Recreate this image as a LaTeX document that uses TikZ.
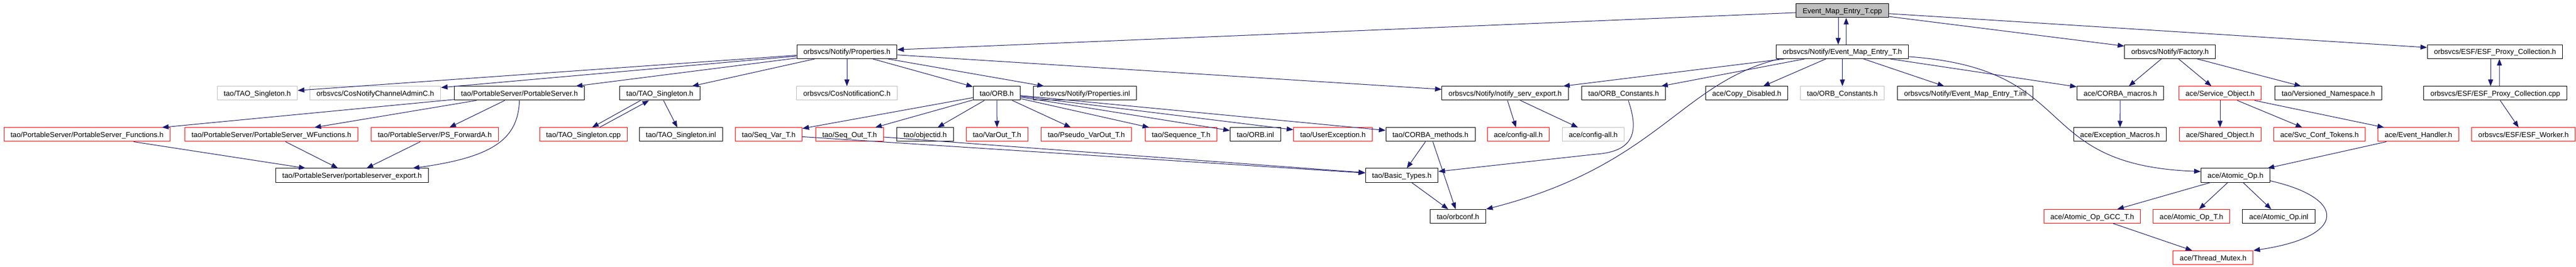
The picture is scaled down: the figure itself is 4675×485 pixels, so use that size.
\documentclass[tikz,border=0pt]{standalone}
\usepackage{fontspec}
\setmainfont{Liberation Sans}
\usetikzlibrary{arrows.meta}
\definecolor{edgeblue}{RGB}{25,25,112}
\definecolor{undocgray}{RGB}{191,191,191}
\tikzset{
  file/.style  = {draw=black, line width=1bp, rectangle, inner xsep=12bp, inner ysep=0pt,
                  text height=11.5bp, text depth=1.5bp, minimum height=25bp,
                  font=\fontsize{13.2bp}{15bp}\selectfont},
  trunc/.style = {file, draw=red},
  undoc/.style = {file, draw=undocgray},
  root/.style  = {file, fill=undocgray},
  dep/.style   = {draw=edgeblue, line width=1bp, -{Triangle[length=12bp,width=9bp]}}
}
\begin{document}
\begin{tikzpicture}[x=1bp, y=-1bp]
  \useasboundingbox (0,0) rectangle (4675,485);

  % row 0
  \node[root]  at (3343.5, 19.5) (cpp)    {Event\_Map\_Entry\_T.cpp};
  % row 1
  \node[file]  at (1537  , 94  ) (props)  {orbsvcs/Notify/Properties.h};
  \node[file]  at (3343.5, 94  ) (emeh)   {orbsvcs/Notify/Event\_Map\_Entry\_T.h};
  \node[file]  at (3938  , 94  ) (fact)   {orbsvcs/Notify/Factory.h};
  \node[file]  at (4528  , 94  ) (esfh)   {orbsvcs/ESF/ESF\_Proxy\_Collection.h};
  % row 2
  \node[undoc] at ( 467  ,169.5) (tsg)    {tao/TAO\_Singleton.h};
  \node[undoc] at ( 681  ,169.5) (cnca)   {orbsvcs/CosNotifyChannelAdminC.h};
  \node[file]  at ( 942.7,169.5) (ps)     {tao/PortableServer/PortableServer.h};
  \node[file]  at (1197.5,169.5) (tsb)    {tao/TAO\_Singleton.h};
  \node[undoc] at (1537  ,169.5) (cnc)    {orbsvcs/CosNotificationC.h};
  \node[file]  at (1809  ,169.5) (orb)    {tao/ORB.h};
  \node[file]  at (1969  ,169.5) (pinl)   {orbsvcs/Notify/Properties.inl};
  \node[file]  at (2731.6,169.5) (nse)    {orbsvcs/Notify/notify\_serv\_export.h};
  \node[file]  at (2946.5,169.5) (orbcb)  {tao/ORB\_Constants.h};
  \node[file]  at (3170  ,169.5) (copy)   {ace/Copy\_Disabled.h};
  \node[undoc] at (3343.6,169.5) (orbcg)  {tao/ORB\_Constants.h};
  \node[file]  at (3566.7,169.5) (emeinl) {orbsvcs/Notify/Event\_Map\_Entry\_T.inl};
  \node[file]  at (3848  ,169.5) (cmac)   {ace/CORBA\_macros.h};
  \node[trunc] at (4029  ,169.5) (so)     {ace/Service\_Object.h};
  \node[file]  at (4225.5,169.5) (vns)    {tao/Versioned\_Namespace.h};
  \node[file]  at (4528.5,169.5) (esfcpp) {orbsvcs/ESF/ESF\_Proxy\_Collection.cpp};
  % row 3
  \node[trunc] at ( 158  ,244.5) (psf)    {tao/PortableServer/PortableServer\_Functions.h};
  \node[trunc] at ( 492.5,244.5) (pswf)   {tao/PortableServer/PortableServer\_WFunctions.h};
  \node[trunc] at ( 789  ,244.5) (psfa)   {tao/PortableServer/PS\_ForwardA.h};
  \node[trunc] at (1058.8,244.5) (tscpp)  {tao/TAO\_Singleton.cpp};
  \node[file]  at (1235.8,244.5) (tsinl)  {tao/TAO\_Singleton.inl};
  \node[trunc] at (1395  ,244.5) (seqvar) {tao/Seq\_Var\_T.h};
  \node[trunc] at (1542  ,244.5) (seqout) {tao/Seq\_Out\_T.h};
  \node[file]  at (1679  ,244.5) (oid)    {tao/objectid.h};
  \node[trunc] at (1809.4,244.5) (varout) {tao/VarOut\_T.h};
  \node[trunc] at (1971.5,244.5) (pvo)    {tao/Pseudo\_VarOut\_T.h};
  \node[trunc] at (2143.5,244.5) (seqt)   {tao/Sequence\_T.h};
  \node[file]  at (2278.3,244.5) (orbinl) {tao/ORB.inl};
  \node[trunc] at (2419  ,244.5) (uex)    {tao/UserException.h};
  \node[file]  at (2596  ,244.5) (cmeth)  {tao/CORBA\_methods.h};
  \node[trunc] at (2755.4,244.5) (cfgr)   {ace/config-all.h};
  \node[undoc] at (2891.4,244.5) (cfgg)   {ace/config-all.h};
  \node[file]  at (3847.4,244.5) (exmac)  {ace/Exception\_Macros.h};
  \node[trunc] at (4029  ,244.5) (shobj)  {ace/Shared\_Object.h};
  \node[trunc] at (4209.5,244.5) (svc)    {ace/Svc\_Conf\_Tokens.h};
  \node[trunc] at (4389  ,244.5) (evh)    {ace/Event\_Handler.h};
  \node[trunc] at (4579.7,244.5) (worker) {orbsvcs/ESF/ESF\_Worker.h};
  % row 4
  \node[file]  at ( 639  ,318.5) (pse)    {tao/PortableServer/portableserver\_export.h};
  \node[file]  at (2544  ,318.5) (bt)     {tao/Basic\_Types.h};
  \node[file]  at (4057  ,318.5) (ao)     {ace/Atomic\_Op.h};
  % row 5
  \node[file]  at (2646  ,393  ) (orbconf){tao/orbconf.h};
  \node[trunc] at (3797  ,393  ) (gcc)    {ace/Atomic\_Op\_GCC\_T.h};
  \node[trunc] at (3977  ,393  ) (aot)    {ace/Atomic\_Op\_T.h};
  \node[file]  at (4135.5,393  ) (aoinl)  {ace/Atomic\_Op.inl};
  % row 6
  \node[trunc] at (4016.4,468  ) (tm)     {ace/Thread\_Mutex.h};

  % Event_Map_Entry_T.cpp
  \draw[dep] ([xshift=-7.5bp]cpp.south) -- ([xshift=-7.5bp]emeh.north);
  \draw[dep] ([xshift=7bp]emeh.north) -- ([xshift=7bp]cpp.south);
  \draw[dep] (cpp) -- (props);
  \draw[dep] (cpp) -- (fact);
  \draw[dep] (cpp) -- (esfh);

  % Properties.h
  \draw[dep] (props) -- (tsg);
  \draw[dep] (props) -- (cnca);
  \draw[dep] (props) -- (ps);
  \draw[dep] (props) -- (tsb);
  \draw[dep] (props) -- (cnc);
  \draw[dep] (props) -- (orb);
  \draw[dep] (props) -- (pinl);
  \draw[dep] (props) -- (nse);

  % Event_Map_Entry_T.h
  \draw[dep] (emeh) -- (nse);
  \draw[dep] (emeh) -- (orbcb);
  \draw[dep] (emeh) -- (copy);
  \draw[dep] (emeh) -- (orbcg);
  \draw[dep] (emeh) -- (emeinl);
  \draw[dep] (emeh) -- (cmac);
  \draw[dep] ([xshift=6.6bp]emeh.south west) .. controls (3050,150) and (3010,300) .. (orbconf.north east);
  \draw[dep] ([yshift=-9bp]emeh.east) .. controls (3780,125) and (3680,300) .. ([yshift=7bp]ao.west);

  % PortableServer.h
  \draw[dep] (ps) -- (psf);
  \draw[dep] (ps) -- (pswf);
  \draw[dep] (ps) -- (psfa);
  \draw[dep] (ps.south) .. controls (940,250) and (900,285) .. ([xshift=110bp]pse.north);
  \draw[dep] (psf) -- (pse);
  \draw[dep] (pswf) -- (pse);
  \draw[dep] (psfa) -- (pse);

  % TAO_Singleton.h
  \draw[dep] ([xshift=-35bp]tsb.south) -- ([xshift=15.7bp]tscpp.north);
  \draw[dep] ([xshift=29bp]tscpp.north) -- ([xshift=-19.6bp]tsb.south);
  \draw[dep] (tsb) -- (tsinl);

  % ORB.h
  \draw[dep] (orb) -- (seqvar);
  \draw[dep] (orb) -- (seqout);
  \draw[dep] (orb) -- (oid);
  \draw[dep] (orb) -- (varout);
  \draw[dep] (orb) -- (pvo);
  \draw[dep] (orb) -- (seqt);
  \draw[dep] (orb) -- (orbinl);
  \draw[dep] (orb) -- (uex);
  \draw[dep] (orb) -- (cmeth);
  \draw[dep] (seqvar) -- (bt);
  \draw[dep] (seqout) -- (bt);
  \draw[dep] (cmeth) -- (bt);
  \draw[dep] (cmeth) -- (orbconf);
  \draw[dep] (bt) -- (orbconf);
  \draw[dep] ([xshift=8.5bp]orbcb.south) .. controls (2975,240) and (2965,275) .. (2897,280) -- ([yshift=7bp]bt.east);

  % notify_serv_export.h
  \draw[dep] (nse) -- (cfgr);
  \draw[dep] (nse) -- (cfgg);

  % Factory.h
  \draw[dep] (fact) -- (cmac);
  \draw[dep] (fact) -- (so);
  \draw[dep] (fact) -- (vns);
  \draw[dep] (cmac) -- (exmac);
  \draw[dep] (so) -- (shobj);
  \draw[dep] (so) -- (svc);
  \draw[dep] (so) -- (evh);
  \draw[dep] (evh) -- (ao);

  % Atomic_Op.h
  \draw[dep] (ao) -- (gcc);
  \draw[dep] (ao) -- (aot);
  \draw[dep] (ao) -- (aoinl);
  \draw[dep] ([yshift=-10bp]ao.east) .. controls (4260,360) and (4260,430) .. (tm.north east);
  \draw[dep] (gcc) -- (tm);

  % ESF_Proxy_Collection
  \draw[dep] ([xshift=-8bp]esfh.south) -- ([xshift=-8.5bp]esfcpp.north);
  \draw[dep] ([xshift=7.5bp]esfcpp.north) -- ([xshift=8bp]esfh.south);
  \draw[dep] (esfcpp) -- (worker);
\end{tikzpicture}
\end{document}
